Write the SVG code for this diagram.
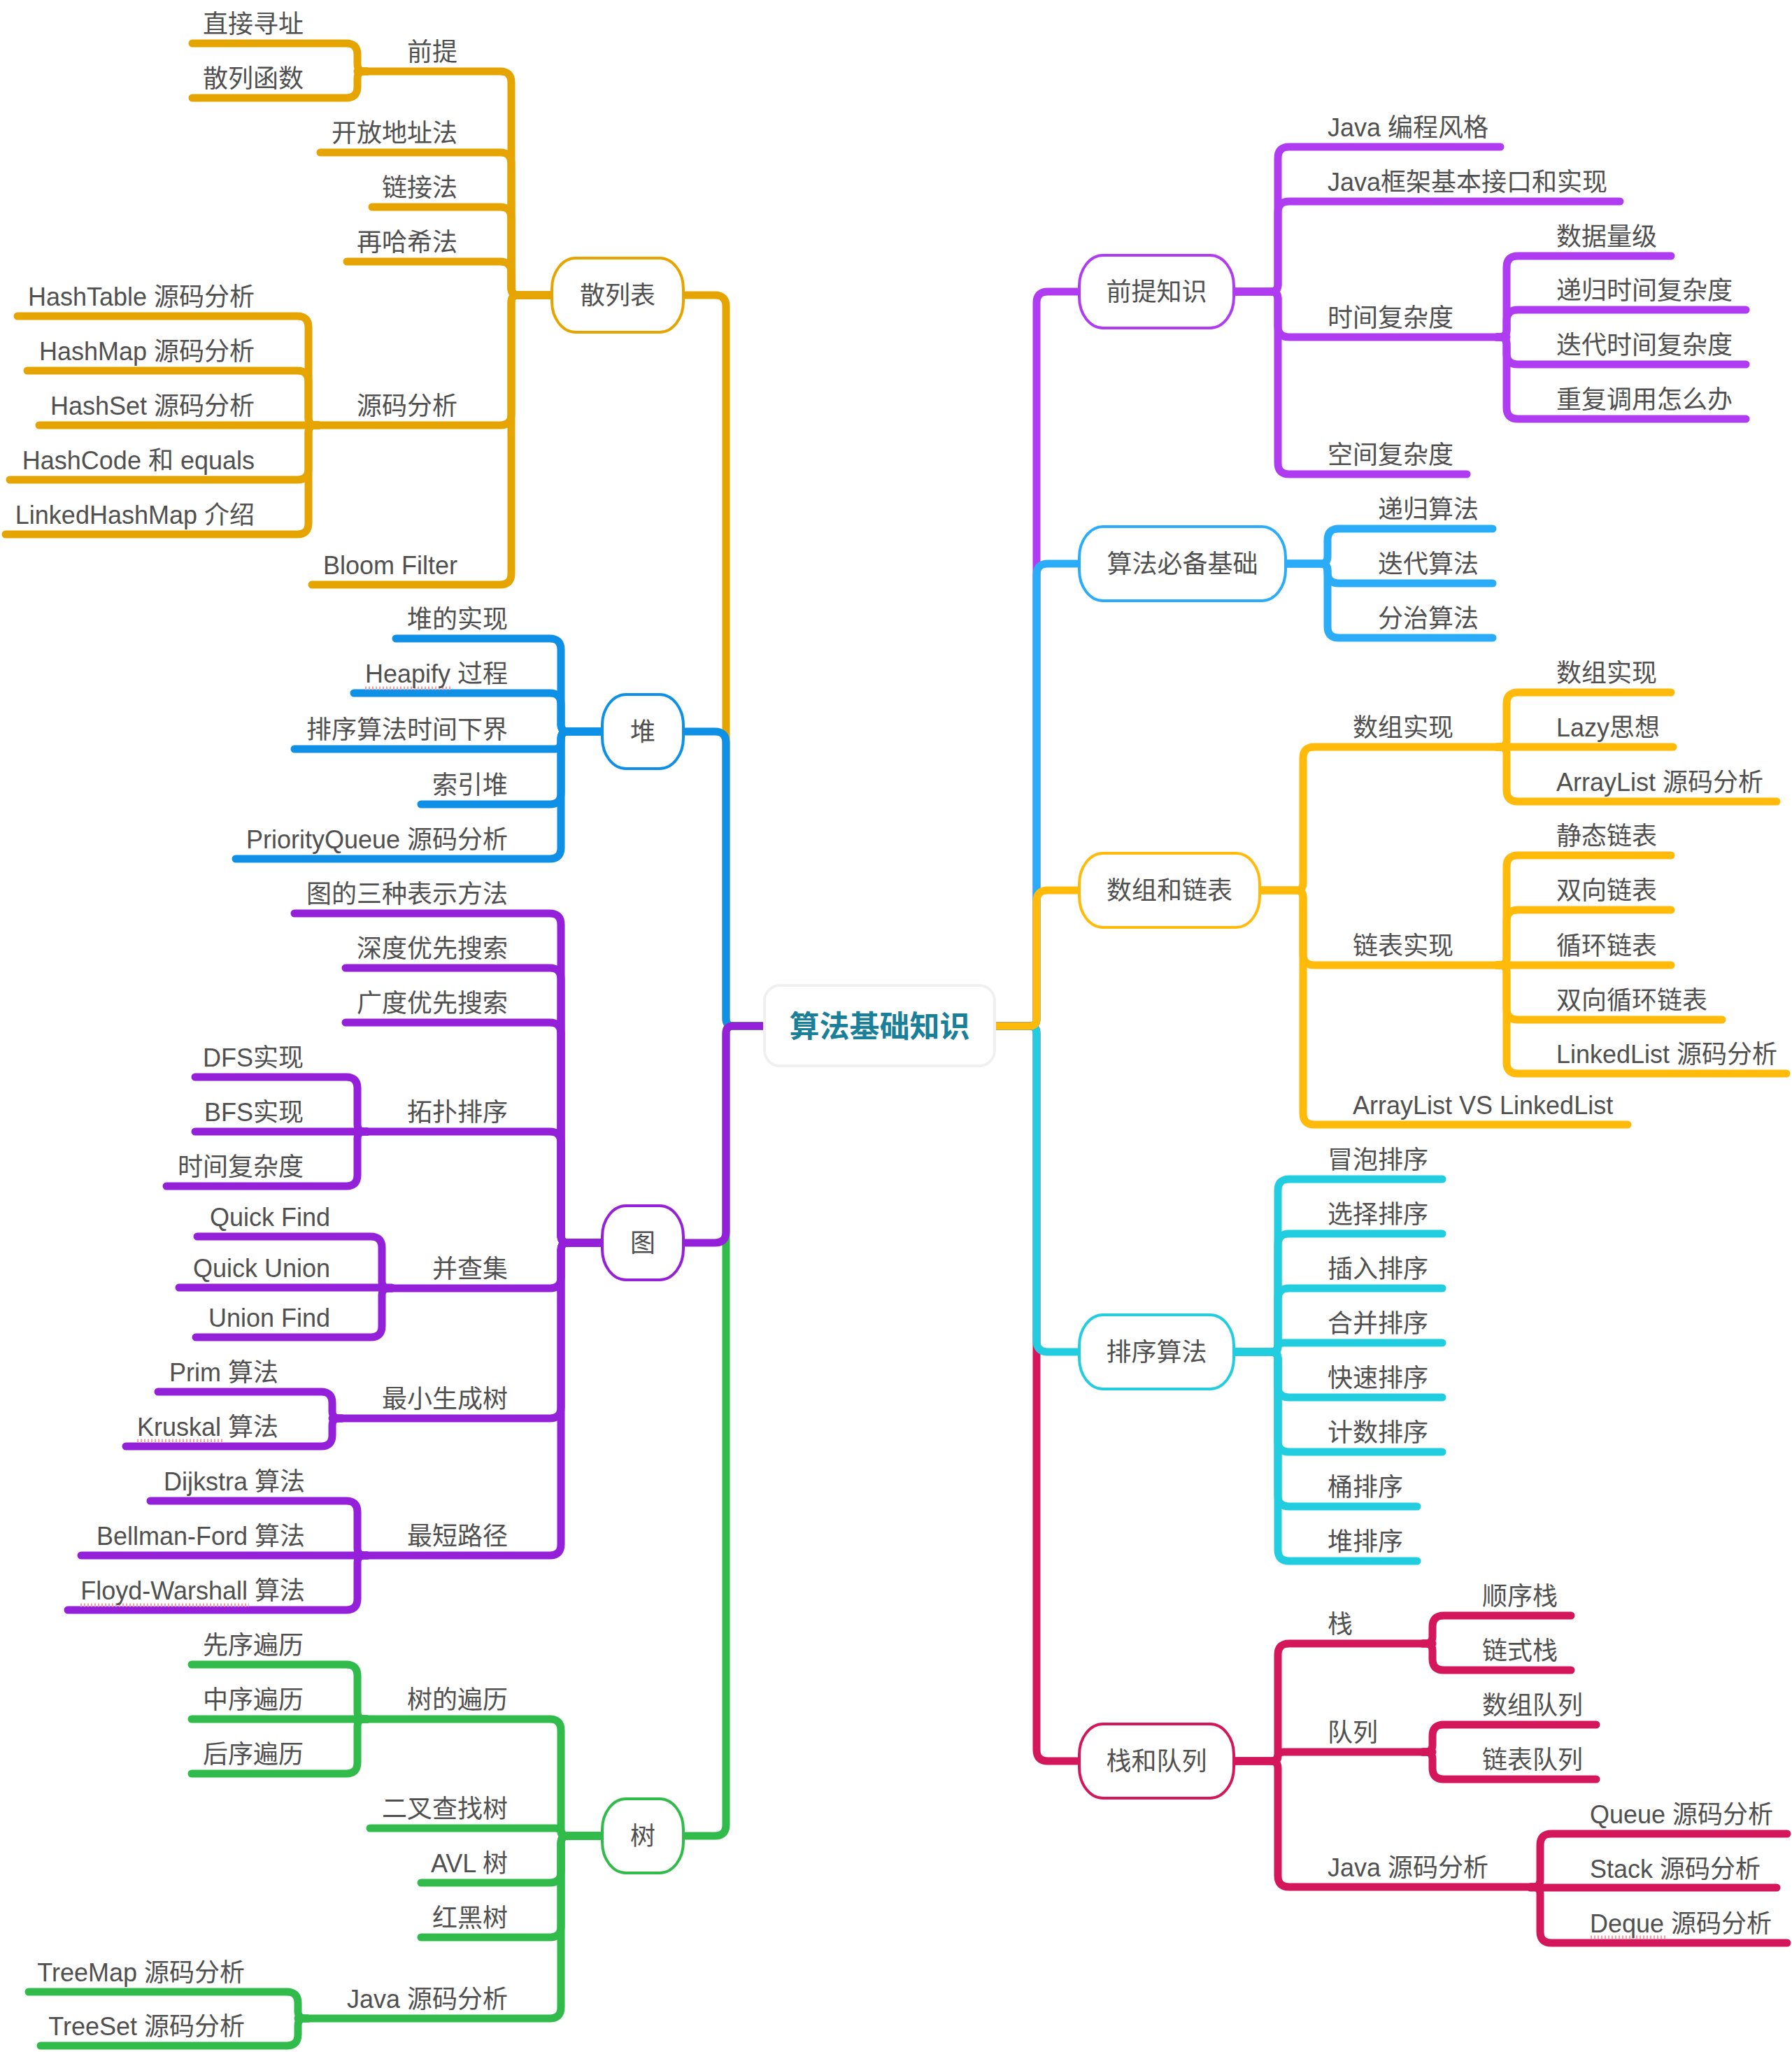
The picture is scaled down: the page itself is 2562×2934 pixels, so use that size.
<svg xmlns="http://www.w3.org/2000/svg" width="2562" height="2934" viewBox="0 0 2562 2934">
<style>
.k{fill:none;stroke-width:11;stroke-linecap:round;stroke-linejoin:round}
.hs{stroke:#e6a400}.hp{stroke:#0e90e6}.gr{stroke:#9420d9}.sh{stroke:#30bb4b}
.qt{stroke:#b03cf2}.sf{stroke:#2aacf9}.sz{stroke:#ffba0a}.px{stroke:#22cde0}.zd{stroke:#d3175a}
text{font-family:"Liberation Sans","Noto Sans CJK SC",sans-serif;font-size:36px;fill:#505050}
.e{text-anchor:end}.m{text-anchor:middle}
.nd{fill:#fff;stroke-width:4}
.sq{stroke:#f4a0a0;stroke-width:5;stroke-dasharray:2 3;fill:none}
.root{fill:#fff;stroke:#f0f0f0;stroke-width:4}
.rt{font-size:43px;font-weight:bold;fill:#1a7f99;font-family:"Noto Sans CJK SC",sans-serif}
</style>
<rect x="0" y="0" width="2562" height="2934" fill="#fff"/>
<g id="connectors">
<path class="k qt" d="M1422,1467 H1472 Q1482,1467 1482,1457 V433 Q1482,417 1498,417 H1550"/>
<path class="k sf" d="M1422,1467 H1472 Q1482,1467 1482,1457 V822 Q1482,806 1498,806 H1550"/>
<path class="k zd" d="M1422,1467 H1472 Q1482,1467 1482,1477 V2502 Q1482,2518 1498,2518 H1550"/>
<path class="k px" d="M1422,1467 H1472 Q1482,1467 1482,1477 V1917 Q1482,1933 1498,1933 H1550"/>
<path class="k sz" d="M1422,1467 H1472 Q1482,1467 1482,1457 V1289 Q1482,1273 1498,1273 H1550"/>
<path class="k hs" d="M1093,1467 H1048 Q1038,1467 1038,1457 V438 Q1038,422 1022,422 H970"/>
<path class="k hp" d="M1093,1467 H1048 Q1038,1467 1038,1457 V1062 Q1038,1046 1022,1046 H970"/>
<path class="k sh" d="M1093,1467 H1048 Q1038,1467 1038,1477 V2609 Q1038,2625 1022,2625 H970"/>
<path class="k gr" d="M1093,1467 H1048 Q1038,1467 1038,1477 V1761 Q1038,1777 1022,1777 H970"/>
<path class="k qt" d="M1764,417 H1817 Q1827,417 1827,407 V226 Q1827,210 1843,210 H2145"/>
<path class="k qt" d="M1764,417 H1817 Q1827,417 1827,407 V304 Q1827,288 1843,288 H2316"/>
<path class="k qt" d="M1764,417 H1817 Q1827,417 1827,427 V466 Q1827,482 1843,482 H2154"/>
<path class="k qt" d="M1764,417 H1817 Q1827,417 1827,427 V662 Q1827,678 1843,678 H2097"/>
<path class="k qt" d="M2140,482 H2144 Q2154,482 2154,472 V382 Q2154,366 2170,366 H2389"/>
<path class="k qt" d="M2140,482 H2144 Q2154,482 2154,472 V459 Q2154,443 2170,443 H2496"/>
<path class="k qt" d="M2140,482 H2144 Q2154,482 2154,492 V505 Q2154,521 2170,521 H2496"/>
<path class="k qt" d="M2140,482 H2144 Q2154,482 2154,492 V583 Q2154,599 2170,599 H2496"/>
<path class="k sf" d="M1838,806 H1888 Q1898,806 1898,796 V772 Q1898,756 1914,756 H2134"/>
<path class="k sf" d="M1838,806 H1888 Q1898,806 1898,816 V818 Q1898,834 1914,834 H2134"/>
<path class="k sf" d="M1838,806 H1888 Q1898,806 1898,816 V896 Q1898,912 1914,912 H2134"/>
<path class="k sz" d="M1801,1273 H1853 Q1863,1273 1863,1263 V1084 Q1863,1068 1879,1068 H2154"/>
<path class="k sz" d="M1801,1273 H1853 Q1863,1273 1863,1283 V1364 Q1863,1380 1879,1380 H2154"/>
<path class="k sz" d="M1801,1273 H1853 Q1863,1273 1863,1283 V1592 Q1863,1608 1879,1608 H2327"/>
<path class="k sz" d="M2140,1068 H2144 Q2154,1068 2154,1058 V1006 Q2154,990 2170,990 H2389"/>
<path class="k sz" d="M2140,1068 H2392"/>
<path class="k sz" d="M2140,1068 H2144 Q2154,1068 2154,1078 V1130 Q2154,1146 2170,1146 H2540"/>
<path class="k sz" d="M2140,1380 H2144 Q2154,1380 2154,1370 V1239 Q2154,1223 2170,1223 H2389"/>
<path class="k sz" d="M2140,1380 H2144 Q2154,1380 2154,1370 V1317 Q2154,1301 2170,1301 H2389"/>
<path class="k sz" d="M2140,1380 H2389"/>
<path class="k sz" d="M2140,1380 H2144 Q2154,1380 2154,1390 V1442 Q2154,1458 2170,1458 H2462"/>
<path class="k sz" d="M2140,1380 H2144 Q2154,1380 2154,1390 V1519 Q2154,1535 2170,1535 H2554"/>
<path class="k px" d="M1764,1933 H1817 Q1827,1933 1827,1923 V1702 Q1827,1686 1843,1686 H2062"/>
<path class="k px" d="M1764,1933 H1817 Q1827,1933 1827,1923 V1780 Q1827,1764 1843,1764 H2062"/>
<path class="k px" d="M1764,1933 H1817 Q1827,1933 1827,1923 V1858 Q1827,1842 1843,1842 H2062"/>
<path class="k px" d="M1764,1933 H1819 Q1827,1933 1827,1926.5 Q1827,1920 1835,1920 H2062"/>
<path class="k px" d="M1764,1933 H1817 Q1827,1933 1827,1943 V1982 Q1827,1998 1843,1998 H2062"/>
<path class="k px" d="M1764,1933 H1817 Q1827,1933 1827,1943 V2060 Q1827,2076 1843,2076 H2062"/>
<path class="k px" d="M1764,1933 H1817 Q1827,1933 1827,1943 V2138 Q1827,2154 1843,2154 H2026"/>
<path class="k px" d="M1764,1933 H1817 Q1827,1933 1827,1943 V2216 Q1827,2232 1843,2232 H2026"/>
<path class="k zd" d="M1764,2518 H1817 Q1827,2518 1827,2508 V2366 Q1827,2350 1843,2350 H2048"/>
<path class="k zd" d="M1764,2518 H1819 Q1827,2518 1827,2511.5 Q1827,2505 1835,2505 H2048"/>
<path class="k zd" d="M1764,2518 H1817 Q1827,2518 1827,2528 V2682 Q1827,2698 1843,2698 H2202"/>
<path class="k zd" d="M2034,2350 H2038 Q2048,2350 2048,2340 V2326 Q2048,2310 2064,2310 H2246"/>
<path class="k zd" d="M2034,2350 H2038 Q2048,2350 2048,2360 V2372 Q2048,2388 2064,2388 H2246"/>
<path class="k zd" d="M2034,2505 H2038 Q2048,2505 2048,2495 V2482 Q2048,2466 2064,2466 H2282"/>
<path class="k zd" d="M2034,2505 H2038 Q2048,2505 2048,2515 V2528 Q2048,2544 2064,2544 H2282"/>
<path class="k zd" d="M2188,2698 H2192 Q2202,2698 2202,2688 V2638 Q2202,2622 2218,2622 H2555"/>
<path class="k zd" d="M2188,2699 H2540"/>
<path class="k zd" d="M2188,2698 H2192 Q2202,2698 2202,2708 V2762 Q2202,2778 2218,2778 H2555"/>
<path class="k hs" d="M791,422 H741 Q731,422 731,412 V118 Q731,102 715,102 H511"/>
<path class="k hs" d="M791,422 H741 Q731,422 731,412 V234 Q731,218 715,218 H458"/>
<path class="k hs" d="M791,422 H741 Q731,422 731,412 V312 Q731,296 715,296 H532"/>
<path class="k hs" d="M791,422 H741 Q731,422 731,412 V390 Q731,374 715,374 H496"/>
<path class="k hs" d="M791,422 H741 Q731,422 731,432 V592 Q731,608 715,608 H441"/>
<path class="k hs" d="M791,422 H741 Q731,422 731,432 V820 Q731,836 715,836 H446"/>
<path class="k hs" d="M525,102 H521 Q511,102 511,92 V78 Q511,62 495,62 H275"/>
<path class="k hs" d="M525,102 H521 Q511,102 511,112 V124 Q511,140 495,140 H275"/>
<path class="k hs" d="M455,608 H451 Q441,608 441,598 V468 Q441,452 425,452 H25"/>
<path class="k hs" d="M455,608 H451 Q441,608 441,598 V546 Q441,530 425,530 H39"/>
<path class="k hs" d="M455,608 H56"/>
<path class="k hs" d="M455,608 H451 Q441,608 441,618 V670 Q441,686 425,686 H14"/>
<path class="k hs" d="M455,608 H451 Q441,608 441,618 V748 Q441,764 425,764 H8"/>
<path class="k hp" d="M864,1046 H812 Q802,1046 802,1036 V929 Q802,913 786,913 H566"/>
<path class="k hp" d="M864,1046 H812 Q802,1046 802,1036 V1007 Q802,991 786,991 H506"/>
<path class="k hp" d="M864,1046 H810 Q802,1046 802,1058.5 Q802,1071 794,1071 H421"/>
<path class="k hp" d="M864,1046 H812 Q802,1046 802,1056 V1134 Q802,1150 786,1150 H602"/>
<path class="k hp" d="M864,1046 H812 Q802,1046 802,1056 V1212 Q802,1228 786,1228 H337"/>
<path class="k gr" d="M864,1777 H812 Q802,1777 802,1767 V1322 Q802,1306 786,1306 H421"/>
<path class="k gr" d="M864,1777 H812 Q802,1777 802,1767 V1400 Q802,1384 786,1384 H494"/>
<path class="k gr" d="M864,1777 H812 Q802,1777 802,1767 V1478 Q802,1462 786,1462 H494"/>
<path class="k gr" d="M864,1777 H812 Q802,1777 802,1767 V1634 Q802,1618 786,1618 H511"/>
<path class="k gr" d="M864,1777 H812 Q802,1777 802,1787 V1826 Q802,1842 786,1842 H546"/>
<path class="k gr" d="M864,1777 H812 Q802,1777 802,1787 V2012 Q802,2028 786,2028 H475"/>
<path class="k gr" d="M864,1777 H812 Q802,1777 802,1787 V2208 Q802,2224 786,2224 H511"/>
<path class="k gr" d="M525,1618 H521 Q511,1618 511,1608 V1556 Q511,1540 495,1540 H279"/>
<path class="k gr" d="M525,1618 H279"/>
<path class="k gr" d="M525,1618 H521 Q511,1618 511,1628 V1680 Q511,1696 495,1696 H238"/>
<path class="k gr" d="M560,1842 H556 Q546,1842 546,1832 V1784 Q546,1768 530,1768 H282"/>
<path class="k gr" d="M560,1841 H256"/>
<path class="k gr" d="M560,1842 H556 Q546,1842 546,1852 V1896 Q546,1912 530,1912 H280"/>
<path class="k gr" d="M489,2028 H485 Q475,2028 475,2018 V2006 Q475,1990 459,1990 H226"/>
<path class="k gr" d="M489,2028 H485 Q475,2028 475,2038 V2052 Q475,2068 459,2068 H180"/>
<path class="k gr" d="M525,2224 H521 Q511,2224 511,2214 V2162 Q511,2146 495,2146 H215"/>
<path class="k gr" d="M525,2224 H116"/>
<path class="k gr" d="M525,2224 H521 Q511,2224 511,2234 V2286 Q511,2302 495,2302 H97"/>
<path class="k sh" d="M864,2625 H812 Q802,2625 802,2615 V2474 Q802,2458 786,2458 H511"/>
<path class="k sh" d="M864,2625 H810 Q802,2625 802,2619.5 Q802,2614 794,2614 H529"/>
<path class="k sh" d="M864,2625 H812 Q802,2625 802,2635 V2676 Q802,2692 786,2692 H602"/>
<path class="k sh" d="M864,2625 H812 Q802,2625 802,2635 V2754 Q802,2770 786,2770 H602"/>
<path class="k sh" d="M864,2625 H812 Q802,2625 802,2635 V2870 Q802,2886 786,2886 H426"/>
<path class="k sh" d="M525,2458 H521 Q511,2458 511,2448 V2396 Q511,2380 495,2380 H274"/>
<path class="k sh" d="M525,2458 H274"/>
<path class="k sh" d="M525,2458 H521 Q511,2458 511,2468 V2520 Q511,2536 495,2536 H274"/>
<path class="k sh" d="M440,2886 H436 Q426,2886 426,2876 V2864 Q426,2848 410,2848 H41"/>
<path class="k sh" d="M440,2886 H436 Q426,2886 426,2896 V2909 Q426,2925 410,2925 H58"/>
</g>
<g id="spellmarks">
<line class="sq" x1="522" y1="984" x2="646" y2="984"/>
<line class="sq" x1="196" y1="2060" x2="320" y2="2060"/>
<line class="sq" x1="115" y1="2295" x2="356" y2="2295"/>
<line class="sq" x1="2274" y1="2770" x2="2384" y2="2770"/>
</g>
<g id="root"><rect class="root" x="1093" y="1409" width="329" height="115" rx="22"/><text class="rt m" x="1257.5" y="1483">算法基础知识</text></g>
<g id="main-qianti"><rect class="nd qt" x="1543" y="365" width="221" height="104" rx="34" ry="44"/><text class="m" x="1653.5" y="430">前提知识</text></g>
<g id="main-suanfa"><rect class="nd sf" x="1543" y="753" width="295" height="106" rx="34" ry="44"/><text class="m" x="1690.5" y="819">算法必备基础</text></g>
<g id="main-shuzu"><rect class="nd sz" x="1543" y="1220" width="258" height="106" rx="34" ry="44"/><text class="m" x="1672" y="1286">数组和链表</text></g>
<g id="main-paixu"><rect class="nd px" x="1543" y="1880" width="221" height="106" rx="34" ry="44"/><text class="m" x="1653.5" y="1946">排序算法</text></g>
<g id="main-zhan"><rect class="nd zd" x="1543" y="2465" width="221" height="106" rx="34" ry="44"/><text class="m" x="1653.5" y="2531">栈和队列</text></g>
<g id="main-sanlie"><rect class="nd hs" x="789" y="369" width="188" height="106" rx="34" ry="44"/><text class="m" x="883" y="435">散列表</text></g>
<g id="main-dui"><rect class="nd hp" x="861" y="993" width="116" height="106" rx="34" ry="44"/><text class="m" x="919" y="1059">堆</text></g>
<g id="main-tu"><rect class="nd gr" x="861" y="1724" width="116" height="106" rx="34" ry="44"/><text class="m" x="919" y="1790">图</text></g>
<g id="main-shu"><rect class="nd sh" x="861" y="2572" width="116" height="106" rx="34" ry="44"/><text class="m" x="919" y="2638">树</text></g>
<g id="r1"><text x="1898" y="195">Java 编程风格</text></g>
<g id="r2"><text x="1898" y="273">Java框架基本接口和实现</text></g>
<g id="r3"><text x="1898" y="467">时间复杂度</text></g>
<g id="r4"><text x="1898" y="663">空间复杂度</text></g>
<g id="r5"><text x="2225" y="351">数据量级</text></g>
<g id="r6"><text x="2225" y="428">递归时间复杂度</text></g>
<g id="r7"><text x="2225" y="506">迭代时间复杂度</text></g>
<g id="r8"><text x="2225" y="584">重复调用怎么办</text></g>
<g id="r9"><text x="1970" y="741">递归算法</text></g>
<g id="r10"><text x="1970" y="819">迭代算法</text></g>
<g id="r11"><text x="1970" y="897">分治算法</text></g>
<g id="r12"><text x="1934" y="1053">数组实现</text></g>
<g id="r13"><text x="1934" y="1365">链表实现</text></g>
<g id="r14"><text x="1934" y="1593">ArrayList VS LinkedList</text></g>
<g id="r15"><text x="2225" y="975">数组实现</text></g>
<g id="r16"><text x="2225" y="1053">Lazy思想</text></g>
<g id="r17"><text x="2225" y="1131">ArrayList 源码分析</text></g>
<g id="r18"><text x="2225" y="1208">静态链表</text></g>
<g id="r19"><text x="2225" y="1286">双向链表</text></g>
<g id="r20"><text x="2225" y="1365">循环链表</text></g>
<g id="r21"><text x="2225" y="1443">双向循环链表</text></g>
<g id="r22"><text x="2225" y="1520">LinkedList 源码分析</text></g>
<g id="r23"><text x="1898" y="1671">冒泡排序</text></g>
<g id="r24"><text x="1898" y="1749">选择排序</text></g>
<g id="r25"><text x="1898" y="1827">插入排序</text></g>
<g id="r26"><text x="1898" y="1905">合并排序</text></g>
<g id="r27"><text x="1898" y="1983">快速排序</text></g>
<g id="r28"><text x="1898" y="2061">计数排序</text></g>
<g id="r29"><text x="1898" y="2139">桶排序</text></g>
<g id="r30"><text x="1898" y="2217">堆排序</text></g>
<g id="r31"><text x="1898" y="2335">栈</text></g>
<g id="r32"><text x="1898" y="2490">队列</text></g>
<g id="r33"><text x="1898" y="2683">Java 源码分析</text></g>
<g id="r34"><text x="2119" y="2295">顺序栈</text></g>
<g id="r35"><text x="2119" y="2373">链式栈</text></g>
<g id="r36"><text x="2119" y="2451">数组队列</text></g>
<g id="r37"><text x="2119" y="2529">链表队列</text></g>
<g id="r38"><text x="2273" y="2607">Queue 源码分析</text></g>
<g id="r39"><text x="2273" y="2685">Stack 源码分析</text></g>
<g id="r40"><text x="2273" y="2763">Deque 源码分析</text></g>
<g id="l1"><text class="e" x="654" y="87">前提</text></g>
<g id="l2"><text class="e" x="654" y="203">开放地址法</text></g>
<g id="l3"><text class="e" x="654" y="281">链接法</text></g>
<g id="l4"><text class="e" x="654" y="359">再哈希法</text></g>
<g id="l5"><text class="e" x="654" y="593">源码分析</text></g>
<g id="l6"><text class="e" x="654" y="821">Bloom Filter</text></g>
<g id="l7"><text class="e" x="434" y="47">直接寻址</text></g>
<g id="l8"><text class="e" x="434" y="125">散列函数</text></g>
<g id="l9"><text class="e" x="364" y="437">HashTable 源码分析</text></g>
<g id="l10"><text class="e" x="364" y="515">HashMap 源码分析</text></g>
<g id="l11"><text class="e" x="364" y="593">HashSet 源码分析</text></g>
<g id="l12"><text class="e" x="364" y="671">HashCode 和 equals</text></g>
<g id="l13"><text class="e" x="364" y="749">LinkedHashMap 介绍</text></g>
<g id="l14"><text class="e" x="726" y="898">堆的实现</text></g>
<g id="l15"><text class="e" x="726" y="976">Heapify 过程</text></g>
<g id="l16"><text class="e" x="726" y="1056">排序算法时间下界</text></g>
<g id="l17"><text class="e" x="726" y="1135">索引堆</text></g>
<g id="l18"><text class="e" x="726" y="1213">PriorityQueue 源码分析</text></g>
<g id="l19"><text class="e" x="726" y="1291">图的三种表示方法</text></g>
<g id="l20"><text class="e" x="726" y="1369">深度优先搜索</text></g>
<g id="l21"><text class="e" x="726" y="1447">广度优先搜索</text></g>
<g id="l22"><text class="e" x="726" y="1603">拓扑排序</text></g>
<g id="l23"><text class="e" x="726" y="1827">并查集</text></g>
<g id="l24"><text class="e" x="726" y="2013">最小生成树</text></g>
<g id="l25"><text class="e" x="726" y="2209">最短路径</text></g>
<g id="l26"><text class="e" x="434" y="1525">DFS实现</text></g>
<g id="l27"><text class="e" x="434" y="1603">BFS实现</text></g>
<g id="l28"><text class="e" x="434" y="1681">时间复杂度</text></g>
<g id="l29"><text class="e" x="472" y="1753">Quick Find</text></g>
<g id="l30"><text class="e" x="472" y="1826">Quick Union</text></g>
<g id="l31"><text class="e" x="472" y="1897">Union Find</text></g>
<g id="l32"><text class="e" x="398" y="1975">Prim 算法</text></g>
<g id="l33"><text class="e" x="398" y="2053">Kruskal 算法</text></g>
<g id="l34"><text class="e" x="436" y="2131">Dijkstra 算法</text></g>
<g id="l35"><text class="e" x="436" y="2209">Bellman-Ford 算法</text></g>
<g id="l36"><text class="e" x="436" y="2287">Floyd-Warshall 算法</text></g>
<g id="l37"><text class="e" x="726" y="2443">树的遍历</text></g>
<g id="l38"><text class="e" x="726" y="2599">二叉查找树</text></g>
<g id="l39"><text class="e" x="726" y="2677">AVL 树</text></g>
<g id="l40"><text class="e" x="726" y="2755">红黑树</text></g>
<g id="l41"><text class="e" x="726" y="2871">Java 源码分析</text></g>
<g id="l42"><text class="e" x="434" y="2365">先序遍历</text></g>
<g id="l43"><text class="e" x="434" y="2443">中序遍历</text></g>
<g id="l44"><text class="e" x="434" y="2521">后序遍历</text></g>
<g id="l45"><text class="e" x="350" y="2833">TreeMap 源码分析</text></g>
<g id="l46"><text class="e" x="350" y="2910">TreeSet 源码分析</text></g>
</svg>
